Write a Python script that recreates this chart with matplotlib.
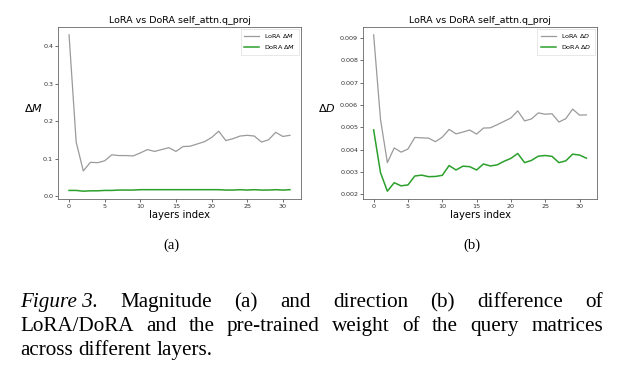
import matplotlib
matplotlib.use("Agg")
import matplotlib.pyplot as plt
import numpy as np

layers = list(range(32))
lora_dm = [0.431, 0.145, 0.068, 0.091, 0.090, 0.095, 0.111, 0.109, 0.109, 0.108,
           0.116, 0.125, 0.120, 0.125, 0.130, 0.120, 0.133, 0.134, 0.140, 0.146,
           0.157, 0.174, 0.149, 0.154, 0.161, 0.163, 0.161, 0.145, 0.151, 0.171,
           0.160, 0.163]
dora_dm = [0.016, 0.016, 0.014, 0.015, 0.015, 0.016, 0.016, 0.017, 0.017, 0.017,
           0.018, 0.018, 0.018, 0.018, 0.018, 0.018, 0.018, 0.018, 0.018, 0.018,
           0.018, 0.018, 0.017, 0.017, 0.018, 0.017, 0.018, 0.017, 0.017, 0.018,
           0.017, 0.018]
lora_dd = [0.00915, 0.00536, 0.00342, 0.00408, 0.00389, 0.00403, 0.00455, 0.00453,
           0.00452, 0.00436, 0.00456, 0.00491, 0.00471, 0.00479, 0.00488, 0.00470,
           0.00497, 0.00498, 0.00512, 0.00527, 0.00542, 0.00574, 0.00529, 0.00538,
           0.00565, 0.00559, 0.00561, 0.00524, 0.00539, 0.00582, 0.00555, 0.00556]
dora_dd = [0.00489, 0.00297, 0.00214, 0.00252, 0.00238, 0.00242, 0.00282, 0.00286,
           0.00279, 0.00280, 0.00285, 0.00329, 0.00309, 0.00326, 0.00324, 0.00309,
           0.00336, 0.00327, 0.00332, 0.00348, 0.00361, 0.00383, 0.00342, 0.00352,
           0.00371, 0.00374, 0.00370, 0.00342, 0.00350, 0.00380, 0.00376, 0.00362]

title = "LoRA vs DoRA self_attn.q_proj"
W, H = 624, 365
fig = plt.figure(figsize=(W / 100, H / 100), dpi=100)

def px_axes(x0, y0, x1, y1):
    return fig.add_axes([x0 / W, 1 - y1 / H, (x1 - x0) / W, (y1 - y0) / H])

gray = "#9a9a9a"
green = "#2ca02c"

panels = [
    (px_axes(58, 27, 301, 199), lora_dm, dora_dm, r"$\Delta M$", "(a)", 33),
    (px_axes(363, 27, 597, 199), lora_dd, dora_dd, r"$\Delta D$", "(b)", 327),
]
for ax, lo, do, sym, sub, ylx in panels:
    ax.plot(layers, lo, color=gray, lw=0.9, label="LoRA " + sym)
    ax.plot(layers, do, color=green, lw=1.1, label="DoRA " + sym)
    ax.set_title(title, fontsize=6.8, pad=3)
    ax.tick_params(labelsize=4.6, length=2, width=0.5, pad=1.5, colors="#333333")
    for s in ax.spines.values():
        s.set_color("#666666")
        s.set_linewidth(0.6)
    ax.set_xticks([0, 5, 10, 15, 20, 25, 30])
    ax.set_xlabel("layers index", fontsize=7.2, labelpad=1)
    leg = ax.legend(loc="upper right", fontsize=4.6, frameon=True, handlelength=2.4,
                    borderpad=0.5, labelspacing=0.45, fancybox=False,
                    borderaxespad=0.35, handletextpad=0.8)
    leg.get_frame().set_linewidth(0.4)
    leg.get_frame().set_edgecolor("#cccccc")
    ax_center = (ax.get_position().x0 + ax.get_position().x1) / 2
    fig.text(ylx / W, 1 - 108 / H, sym, fontsize=8, ha="center", va="center")
    fig.text(ax_center - 8 / W, 1 - 245 / H, sub, fontsize=10.5, ha="center", va="center",
             family="Liberation Serif")

# caption with justified lines
serif = "Liberation Serif"
cap_fs = 15.2
left, right = 20, 603
lines = [
    ([("Figure 3.", "italic"), ("Magnitude", "normal"), ("(a)", "normal"), ("and", "normal"),
      ("direction", "normal"), ("(b)", "normal"), ("difference", "normal"), ("of", "normal")], 307, True),
    ([(w, "normal") for w in "LoRA/DoRA and the pre-trained weight of the query matrices".split()], 331, True),
    ([(w, "normal") for w in "across different layers.".split()], 355, False),
]
fig.canvas.draw()
renderer = fig.canvas.get_renderer()
for words, yb, justify in lines:
    texts = []
    for w, st in words:
        t = fig.text(0, 1 - yb / H, w, fontsize=cap_fs, family=serif, style=st,
                     ha="left", va="baseline")
        texts.append(t)
    widths = [t.get_window_extent(renderer).width for t in texts]
    if justify and len(texts) > 1:
        gap = (right - left - sum(widths)) / (len(texts) - 1)
    else:
        gap = cap_fs * 100 / 72 * 0.25
    x = left
    for t, w in zip(texts, widths):
        t.set_x(x / W)
        x += w + gap

fig.savefig("out.png", dpi=100)
